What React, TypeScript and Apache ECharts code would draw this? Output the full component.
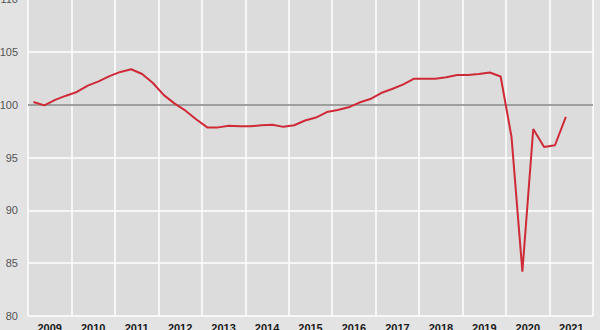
import React, { useEffect, useRef } from "react";
import * as echarts from "echarts";

const years = ["2009","2010","2011","2012","2013","2014","2015","2016","2017","2018","2019","2020","2021"];
const yTicks = [80, 85, 90, 95, 100, 105, 110];
// Quarterly index values, 2009 Q1 .. 2021 Q2
const values = [
  100.25, 99.93, 100.45, 100.85,
  101.2, 101.8, 102.2, 102.7,
  103.1, 103.35, 102.9, 102.05,
  100.9, 100.1, 99.43, 98.6,
  97.85, 97.85, 98.0, 97.95,
  97.95, 98.05, 98.1, 97.9,
  98.05, 98.5, 98.78, 99.3,
  99.5, 99.75, 100.2, 100.53,
  101.1, 101.48, 101.9, 102.45,
  102.45, 102.45, 102.6, 102.8,
  102.8, 102.9, 103.05, 102.67,
  96.95, 84.2, 97.7, 96.0,
  96.16, 98.84,
];
const baseline = 100;

export default function App() {
  const ref = useRef<HTMLDivElement>(null);
  useEffect(() => {
    if (!ref.current) return;
    const chart = echarts.init(ref.current, null, { renderer: "svg" });
    const seriesData = values.map((v, i) => [i * 0.25 + 0.125, v]);
    chart.setOption({
      animation: false,
      backgroundColor: "#e3e3e3",
      textStyle: { fontFamily: "Liberation Sans, Arial, sans-serif" },
      grid: {
        left: 28,
        right: 7,
        top: -1,
        bottom: 14,
        show: true,
        backgroundColor: "#dcdcdc",
        borderWidth: 0,
        containLabel: false,
        outerBoundsMode: "none",
      },
      xAxis: [
        {
          type: "value",
          min: 0,
          max: years.length,
          interval: 1,
          position: "bottom",
          axisLine: { show: false },
          axisTick: { show: false },
          axisLabel: { show: false },
          splitLine: { show: true, lineStyle: { color: "#ffffff", width: 1.5 } },
        },
        {
          type: "category",
          data: years,
          position: "bottom",
          boundaryGap: true,
          axisLine: { show: false },
          axisTick: { show: false },
          splitLine: { show: false },
          axisLabel: {
            color: "#1a1a1a",
            fontSize: 11,
            fontWeight: "bold",
            margin: 6,
            interval: 0,
          },
        },
      ],
      yAxis: {
        type: "value",
        min: yTicks[0],
        max: yTicks[yTicks.length - 1],
        interval: 5,
        axisLine: { show: false },
        axisTick: { show: false },
        axisLabel: { color: "#555555", fontSize: 11, margin: 10 },
        splitLine: { show: true, lineStyle: { color: "#ffffff", width: 1.5 } },
      },
      series: [
        {
          type: "line",
          xAxisIndex: 0,
          data: seriesData,
          showSymbol: false,
          symbol: "none",
          lineStyle: { color: "#cf2a38", width: 2 },
          z: 3,
          markLine: {
            silent: true,
            symbol: ["none", "none"],
            label: { show: false },
            lineStyle: { color: "#808080", width: 1.5, type: "solid" },
            data: [{ yAxis: baseline }],
            z: 2,
          },
        },
      ],
    });
    return () => chart.dispose();
  }, []);
  return (
    <div
      ref={ref}
      style={{ position: "fixed", left: 0, top: 0, width: 600, height: 330 }}
    />
  );
}
